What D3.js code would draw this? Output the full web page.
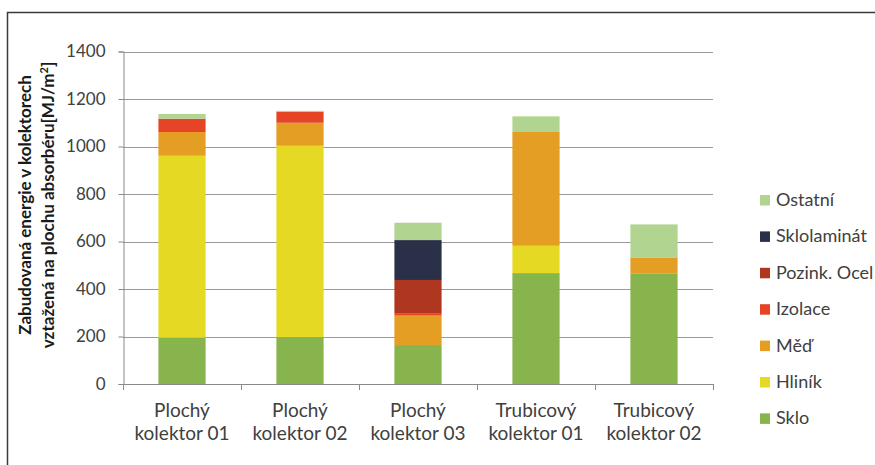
<!DOCTYPE html>
<html>
<head>
<meta charset="utf-8">
<script src="https://cdn.jsdelivr.net/npm/d3@7"></script>
<style>
  html, body { margin: 0; padding: 0; background: #fff; }
  svg { display: block; font-family: Lato, "Open Sans", sans-serif; }
</style>
</head>
<body>
<svg id="chart" width="875" height="465"></svg>
<script>
// Collectors and the materials stacked inside each bar (MJ/m²)
const categories = [
  ["Plochý", "kolektor 01"],
  ["Plochý", "kolektor 02"],
  ["Plochý", "kolektor 03"],
  ["Trubicový", "kolektor 01"],
  ["Trubicový", "kolektor 02"]
];
const materials = ["Sklo", "Hliník", "Měď", "Izolace", "Pozink. Ocel", "Sklolaminát", "Ostatní"];
const colors = ["#88b44e", "#e6d923", "#e59e24", "#e54427", "#b0371f", "#2b3049", "#b1d491"];

const sklo        = [195, 198, 164, 467, 464];
const hlinik      = [766, 805,   0, 115,   0];
const med         = [100,  97, 124, 479,  69];
const izolace     = [ 56,  47,   8,   0,   0];
const pozinkOcel  = [  0,   0, 142,   0,   0];
const sklolaminat = [  0,   0, 168,   0,   0];
const ostatni     = [ 20,   3,  73,  66, 139];

const yTicks = [0, 200, 400, 600, 800, 1000, 1200, 1400];

const series = [sklo, hlinik, med, izolace, pozinkOcel, sklolaminat, ostatni];
const rows = categories.map((c, i) => {
  const r = { key: i };
  materials.forEach((m, j) => { r[m] = series[j][i]; });
  return r;
});

const svg = d3.select("#chart");
const plotLeft = 123, plotRight = 713, plotTop = 51.5, plotBottom = 384;
const textColor = "#404040";

// Outer frame
svg.append("path")
  .attr("d", "M7.5,465 V12.5 H875")
  .attr("fill", "none").attr("stroke", "#3a3a3a").attr("stroke-width", 1.5);

const x = d3.scaleBand().domain(d3.range(categories.length)).range([plotLeft, plotRight])
  .paddingInner(0.6).paddingOuter(0.3);
const xStep = (plotRight - plotLeft) / categories.length;
const y = d3.scaleLinear().domain([0, 1400]).range([plotBottom, plotTop]);

// Gridlines
svg.append("g").selectAll("line").data(yTicks.filter(t => t > 0)).join("line")
  .attr("x1", plotLeft).attr("x2", plotRight)
  .attr("y1", d => Math.round(y(d)) + 0.5).attr("y2", d => Math.round(y(d)) + 0.5)
  .attr("stroke", "#9a9a9a").attr("stroke-width", 1);

// Stacked bars
const stack = d3.stack().keys(materials)(rows);
svg.append("g").selectAll("g").data(stack).join("g")
  .attr("fill", (d, i) => colors[i])
  .selectAll("rect").data(d => d).join("rect")
  .attr("x", d => x(d.data.key))
  .attr("width", x.bandwidth())
  .attr("y", d => y(d[1]))
  .attr("height", d => Math.max(0, y(d[0]) - y(d[1])));

// Y axis
const yAxis = svg.append("g").attr("transform", `translate(${plotLeft + 0.5},0)`)
  .call(d3.axisLeft(y).tickValues(yTicks).tickFormat(d3.format("d")).tickSize(5).tickPadding(13));
yAxis.select(".domain").attr("stroke", "#8a8a8a");
yAxis.selectAll(".tick line").attr("stroke", "#8a8a8a");
yAxis.selectAll(".tick text").attr("fill", textColor)
  .style("font-size", "17px").style("font-family", "Lato, sans-serif");

// X axis: baseline with category separators
const xg = svg.append("g");
xg.append("line").attr("x1", plotLeft).attr("x2", plotRight)
  .attr("y1", plotBottom + 0.5).attr("y2", plotBottom + 0.5).attr("stroke", "#8a8a8a");
xg.selectAll("line.sep").data(d3.range(categories.length + 1)).join("line")
  .attr("class", "sep")
  .attr("x1", i => Math.round(plotLeft + i * xStep) + 0.5)
  .attr("x2", i => Math.round(plotLeft + i * xStep) + 0.5)
  .attr("y1", plotBottom).attr("y2", plotBottom + 6).attr("stroke", "#8a8a8a");

const labels = xg.selectAll("text.cat").data(categories).join("text")
  .attr("class", "cat")
  .attr("text-anchor", "middle")
  .attr("fill", textColor)
  .style("font-size", "19px");
labels.each(function(d, i) {
  const cx = x(i) + x.bandwidth() / 2;
  d3.select(this).selectAll("tspan").data(d).join("tspan")
    .attr("x", cx)
    .attr("y", (t, k) => 417 + k * 23)
    .text(t => t);
});

// Y title
const title = svg.append("text")
  .attr("transform", "translate(0,205) rotate(-90)")
  .attr("text-anchor", "middle")
  .attr("fill", "#1a1a1a")
  .style("font-size", "17px").style("font-weight", "bold");
title.append("tspan").attr("x", 0).attr("y", 31).text("Zabudovaná energie v kolektorech");
title.append("tspan").attr("x", 0).attr("y", 54).text("vztažená na plochu absorbéru[MJ/m");
title.append("tspan").attr("dy", -6).style("font-size", "11px").text("2");
title.append("tspan").attr("dy", 6).text("]");

// Legend, top entry is the last stacked material
const legendItems = materials.map((m, i) => ({ m, c: colors[i] })).reverse();
const lg = svg.append("g").selectAll("g").data(legendItems).join("g")
  .attr("transform", (d, i) => `translate(760,${206 + i * 36.4})`);
lg.append("rect").attr("x", 0).attr("y", -11).attr("width", 10).attr("height", 10.5)
  .attr("fill", d => d.c);
lg.append("text").attr("x", 16).attr("y", 0).attr("fill", textColor)
  .style("font-size", "18px").text(d => d.m);
</script>
</body>
</html>
